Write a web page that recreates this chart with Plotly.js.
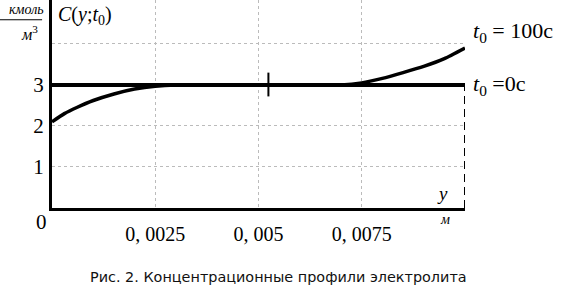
<!DOCTYPE html>
<html>
<head>
<meta charset="utf-8">
<script src="https://cdn.plot.ly/plotly-3.0.1.min.js"></script>
<style>html,body{margin:0;padding:0;background:#fff;}#chart{width:575px;height:289px;}</style>
</head>
<body>
<div id="chart"></div>
<script>
// Data
var t0X = [0, 0.01];
var t0Y = [3, 3];
var t100X = [0, 0.0003, 0.0006, 0.001, 0.0015, 0.002, 0.0025, 0.003, 0.005, 0.007, 0.0075, 0.008, 0.0085, 0.009, 0.0095, 0.01];
var t100Y = [2.1, 2.3, 2.45, 2.62, 2.78, 2.9, 2.97, 3.0, 3.0, 3.0, 3.05, 3.16, 3.3, 3.45, 3.64, 3.9];
var markX = [0.00524, 0.00524];
var markY = [2.72, 3.3];
var edgeX = [0.01, 0.01];
var edgeY = [0, 3];
var xTickVals = [0.0025, 0.005, 0.0075, 0.01];
var xTickText = ["0, 0025", "0, 005", "0, 0075", ""];
var yTickVals = [1, 2, 3, 4];
var yTickText = ["1", "2", "3", ""];

var serif = "Liberation Serif, Times New Roman, serif";

var traces = [
  {x: t0X, y: t0Y, mode: "lines", line: {color: "#000", width: 4}, hoverinfo: "skip"},
  {x: t100X, y: t100Y, mode: "lines", line: {color: "#000", width: 3.5, shape: "spline", smoothing: 0.5}, hoverinfo: "skip"},
  {x: markX, y: markY, mode: "lines", line: {color: "#000", width: 2}, hoverinfo: "skip"},
  {x: edgeX, y: edgeY, mode: "lines", line: {color: "#000", width: 2, dash: "8px,5px"}, hoverinfo: "skip"}
];

var layout = {
  width: 575, height: 289,
  margin: {l: 52, r: 110, t: 0, b: 81},
  paper_bgcolor: "#fff", plot_bgcolor: "#fff",
  showlegend: false,
  xaxis: {
    range: [0, 0.01], autorange: false,
    tickvals: xTickVals, ticktext: xTickText,
    showgrid: true, gridcolor: "#bbb", gridwidth: 1, griddash: "dot",
    zeroline: false, showline: true, linecolor: "#000", linewidth: 3,
    ticks: "outside", ticklen: 6, tickcolor: "rgba(0,0,0,0)",
    tickfont: {family: serif, size: 20, color: "#000"}
  },
  yaxis: {
    range: [0, 5.07], autorange: false,
    tickvals: yTickVals, ticktext: yTickText,
    showgrid: true, gridcolor: "#bbb", gridwidth: 1, griddash: "dot",
    zeroline: false, showline: true, linecolor: "#000", linewidth: 3,
    ticks: "outside", ticklen: 1, tickcolor: "rgba(0,0,0,0)",
    tickfont: {family: serif, size: 21, color: "#000"}
  },
  annotations: [
    {xref: "paper", yref: "paper", x: -0.008, y: -0.02, xanchor: "right", yanchor: "top", yshift: 4, text: "0", showarrow: false, font: {family: serif, size: 21, color: "#000"}},
    {xref: "paper", yref: "paper", x: 0.963, y: 0.01, xanchor: "right", yanchor: "bottom", text: "<i>y</i>", showarrow: false, font: {family: serif, size: 19, color: "#000"}},
    {xref: "paper", yref: "paper", x: 0.968, y: -0.01, xanchor: "right", yanchor: "top", text: "<i>м</i>", showarrow: false, font: {family: serif, size: 14, color: "#000"}},
    {xref: "paper", yref: "paper", x: 0.01, y: 0.995, xanchor: "left", yanchor: "top", text: "<i>C</i>(<i>y</i>;<i>t</i><sub>0</sub>)", showarrow: false, font: {family: serif, size: 20, color: "#000"}},
    {xref: "x", yref: "y", x: 0.01, y: 4.3, xanchor: "left", yanchor: "middle", xshift: 6, text: "<i>t</i><sub>0</sub> = 100c", showarrow: false, font: {family: serif, size: 22, color: "#000"}},
    {xref: "x", yref: "y", x: 0.01, y: 3, xanchor: "left", yanchor: "middle", xshift: 6, text: "<i>t</i><sub>0</sub> =0c", showarrow: false, font: {family: serif, size: 22, color: "#000"}},
    {xref: "paper", yref: "paper", x: -0.062, y: 1.0, xanchor: "center", yanchor: "top", yshift: 0, text: "<i>кмоль</i>", showarrow: false, font: {family: serif, size: 14, color: "#000"}},
    {xref: "paper", yref: "paper", x: -0.055, y: 0.9, xanchor: "center", yanchor: "top", text: "<i>м</i><sup>3</sup>", showarrow: false, font: {family: serif, size: 16, color: "#000"}},
    {xref: "paper", yref: "paper", x: 0.549, y: -0.33, xanchor: "center", yanchor: "middle", text: "Рис. 2. Концентрационные профили электролита", showarrow: false, font: {family: "DejaVu Sans, Verdana, sans-serif", size: 14.4, color: "#111"}}
  ],
  shapes: [
    {type: "line", xref: "paper", yref: "paper", x0: -0.126, x1: -0.024, y0: 0.905, y1: 0.905, line: {color: "#000", width: 1}}
  ]
};

Plotly.newPlot("chart", traces, layout, {staticPlot: true, displayModeBar: false});
</script>
</body>
</html>
